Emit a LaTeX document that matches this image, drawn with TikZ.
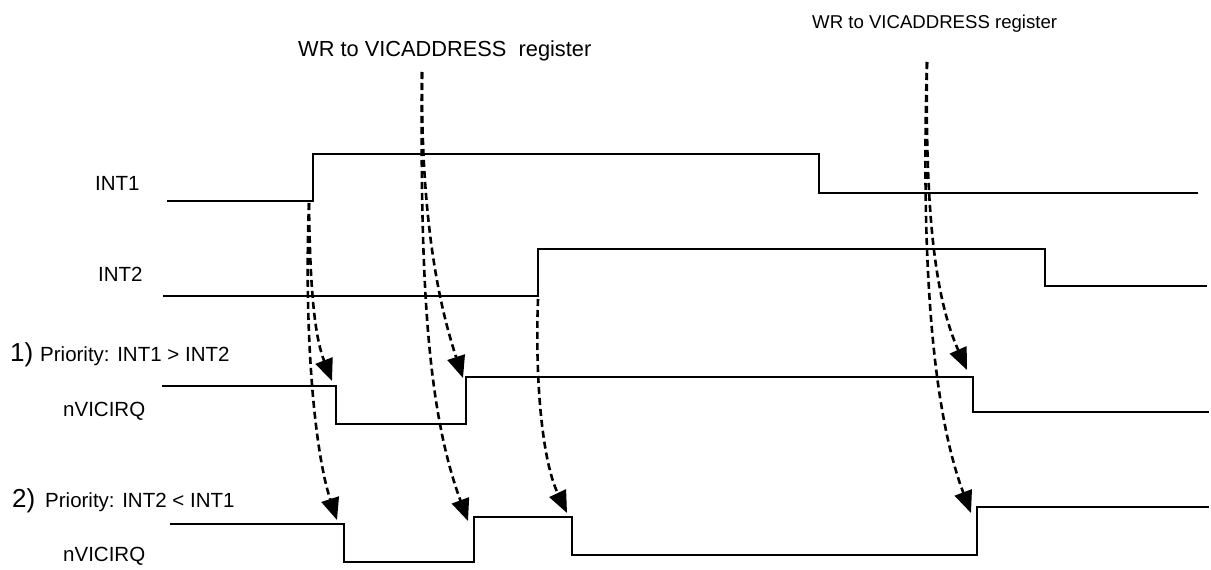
\documentclass[tikz,border=0pt]{standalone}
\usepackage{fontspec}
\setmainfont{Liberation Sans}
\usetikzlibrary{arrows.meta}
\begin{document}
\begin{tikzpicture}[x=1pt,y=-1pt,
  sig/.style={line width=2pt, line join=miter},
  trig/.style={line width=2.6pt, dash pattern=on 7pt off 4pt, -{Triangle[length=22pt,width=18pt]}},
  lbl/.style={inner sep=0pt, anchor=base west, font=\fontsize{20.5}{24}\selectfont},
  big/.style={lbl, font=\fontsize{26}{30}\selectfont}]
\useasboundingbox (0,0) rectangle (1211,570);

% labels
\node[lbl] (int1) at (95,190) {INT1};
\node[lbl] (int2) at (98,281.7) {INT2};
\node[big] (p1n) at (10,361) {1)};
\node[lbl] (p1) at (40,361) {Priority: INT1 > INT2};
\node[lbl] (n1) at (63,416) {nVICIRQ};
\node[big] (p2n) at (12,507) {2)};
\node[lbl] (p2) at (45,507) {Priority: INT2 < INT1};
\node[lbl] (n2) at (63,561) {nVICIRQ};
\node[lbl, font=\fontsize{21.8}{25}\selectfont] (wr1) at (298,56.7) {WR to VICADDRESS\ \ register};
\node[lbl, font=\fontsize{18.6}{22}\selectfont] (wr2) at (812,28) {WR to VICADDRESS register};

% signals
\draw[sig] (167,201) -- (312.5,201) -- (312.5,154) -- (818.5,154) -- (818.5,192.5) -- (1198,192.5);
\draw[sig] (163,296) -- (538,296) -- (538,249) -- (1045,249) -- (1045,285.5) -- (1207,285.5);
\draw[sig] (162,386) -- (335.5,386) -- (335.5,424) -- (466,424) -- (466,376.5) -- (972.5,376.5) -- (972.5,412) -- (1209,412);
\draw[sig] (169.5,524) -- (343.5,524) -- (343.5,562) -- (473.5,562) -- (473.5,517) -- (572,517) -- (572,555) -- (976.5,555) -- (976.5,507) -- (1209,507);

% trigger points
\coordinate (a0) at (309,203);
\coordinate (b0) at (422,72);
\coordinate (c0) at (538,299);
\coordinate (d0) at (927,62);
% targets
\coordinate (t11) at (332,381);
\coordinate (t21) at (337,520);
\coordinate (t12) at (463,378);
\coordinate (t22) at (468,521);
\coordinate (t23) at (567,513);
\coordinate (t13) at (967,370);
\coordinate (t24) at (971,513);

% dashed arrows
\draw[trig] (a0) .. controls (310,300) and (316,340) .. (t11);
\draw[trig] (a0) .. controls (304,330) and (314,450) .. (t21);
\draw[trig] (b0) .. controls (421,200) and (434,290) .. (t12);
\draw[trig] (b0) .. controls (420,280) and (427,410) .. (t22);
\draw[trig] (c0) .. controls (535,380) and (542,460) .. (t23);
\draw[trig] (d0) .. controls (925,220) and (936,300) .. (t13);
\draw[trig] (d0) .. controls (921,260) and (932,410) .. (t24);
\end{tikzpicture}
\end{document}
